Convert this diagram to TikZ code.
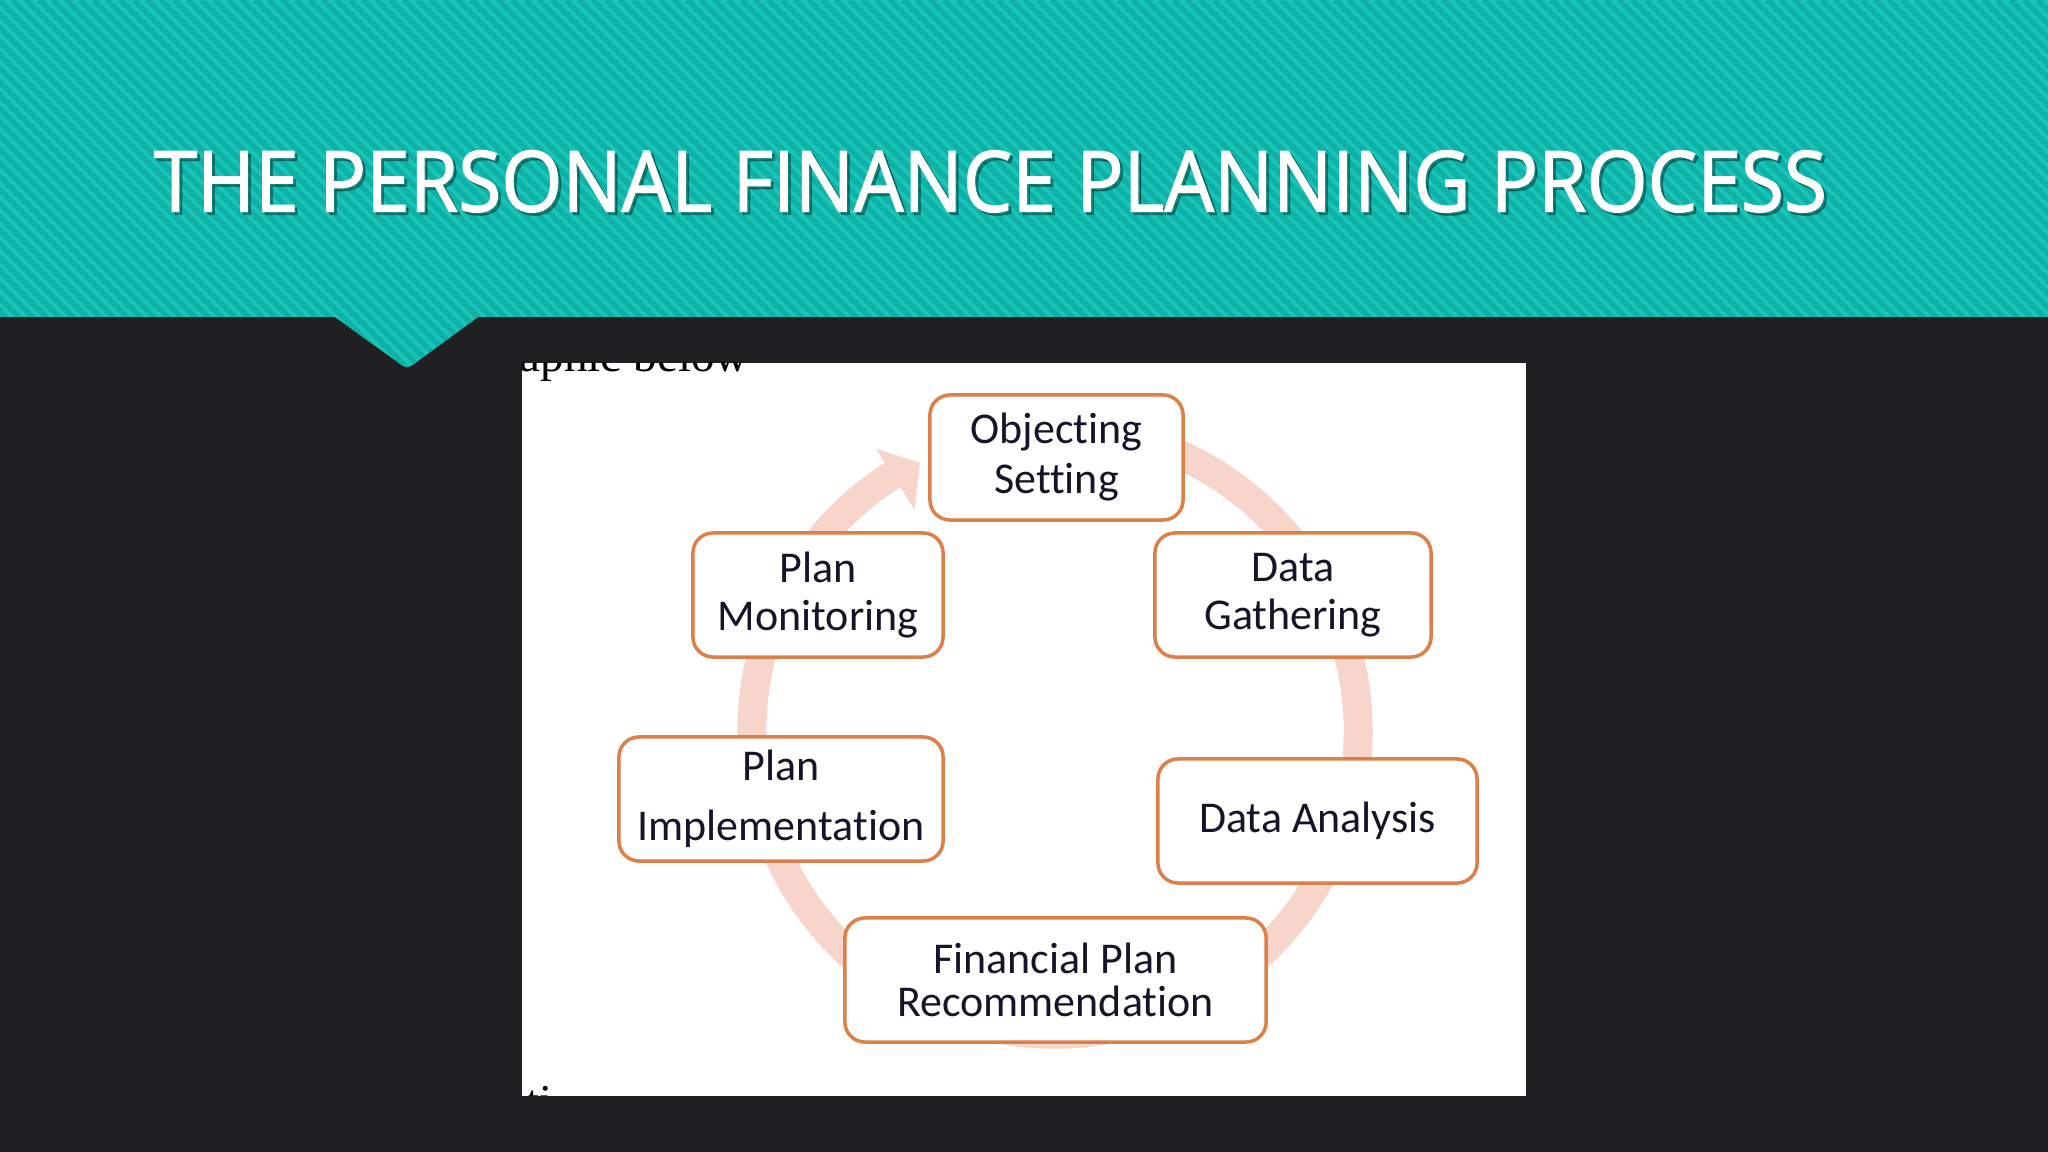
\documentclass[tikz,border=0pt]{standalone}
\usepackage{fontspec}
\setmainfont{Carlito}[Ligatures=NoCommon]
\newfontfamily\titlefont{Open Sans}[FakeBold=1.6]
\newfontfamily\serifface{Liberation Serif}
\usetikzlibrary{calc}
\definecolor{bgc}{HTML}{202022}
\definecolor{tealbase}{HTML}{19C5B9}
\definecolor{tealstripe}{HTML}{0FB1A6}
\definecolor{ringc}{HTML}{F7D5CA}
\definecolor{boxc}{HTML}{DE7F48}
\definecolor{txtc}{HTML}{15152A}
\newcommand\bxfont{\fontsize{12.5pt}{14.2pt}\selectfont}
\newcommand\capfont{\fontsize{13.4pt}{15pt}\selectfont\serifface}
\tikzset{
  stepbox/.style={draw=boxc, line width=0.035cm, rounded corners=0.2cm, fill=white,
    align=center, inner sep=0pt, text=txtc, font=\bxfont},
  stripe/.style={draw=tealstripe, line width=0.055cm},
}
\begin{document}
\begin{tikzpicture}[x=0.01cm,y=0.01cm]
\useasboundingbox (0,0) rectangle (2048,1152);
\fill[bgc] (0,0) rectangle (2048,1152);
% banner with notch
\begin{scope}
\clip (0,1152) -- (2048,1152) -- (2048,835) -- (478,835) -- (416.7,790.1)
  .. controls (407,783) .. (397.3,790.1) -- (335,835) -- (0,835) -- cycle;
\fill[tealbase] (0,700) rectangle (2048,1152);
\foreach \i in {0,...,190} { \draw[stripe] ({\i*13.5-460},1152) -- ++(460,-460); }
\end{scope}
% title
\node[anchor=south west, inner sep=0pt, text=black, text opacity=0.3] (titleshadow) at (156,936)
  {\resizebox{16.72cm}{0.61cm}{\titlefont THE PERSONAL FINANCE PLANNING PROCESS}};
\node[anchor=south west, inner sep=0pt, text=white] (title) at (153,939)
  {\resizebox{16.72cm}{0.61cm}{\titlefont THE PERSONAL FINANCE PLANNING PROCESS}};
% picture area
\fill[white] (522,56) rectangle (1526,789);
\begin{scope}
\clip (522,56) rectangle (1526,789);
\node[anchor=base west, inner sep=0pt, font=\capfont, text=black] (caption) at (519,780) {aphic below};
\node[anchor=base west, inner sep=0pt, font=\capfont, text=black] (foot) at (526,34) {ti};
\end{scope}
% cycle ring with arrow head
\coordinate (C) at (1055,421);
\fill[ringc] ($(C)+(100:3.175cm)$) arc[start angle=100, end angle=-237.6, radius=3.175cm]
  -- ($(C)+(122.4:3.34cm)$) -- ($(C)+(116.7:3.0cm)$) -- ($(C)+(122.4:2.62cm)$)
  -- ($(C)+(122.4:2.885cm)$) arc[start angle=-237.6, end angle=100, radius=2.885cm] -- cycle;
% steps
\node[stepbox, minimum width=2.53cm, minimum height=1.25cm] (obj) at (1056.5,694.5) {Objecting\\Setting};
\node[stepbox, minimum width=2.76cm, minimum height=1.24cm] (gather) at (1293,557) {Data\\[-0.5pt]Gathering};
\node[stepbox, minimum width=3.19cm, minimum height=1.24cm] (analysis) at (1317.5,331) {Data Analysis};
\node[stepbox, minimum width=4.21cm, minimum height=1.24cm] (recommend) at (1055.5,172) {Financial Plan\\[-2pt]Recommendation};
\node[stepbox, minimum width=3.24cm, minimum height=1.24cm] (implement) at (781,353) {Plan\\[2.9pt]Implementation};
\node[stepbox, minimum width=2.50cm, minimum height=1.24cm] (monitor) at (818,557) {Plan\\[-0.5pt]Monitoring};
\end{tikzpicture}
\end{document}
